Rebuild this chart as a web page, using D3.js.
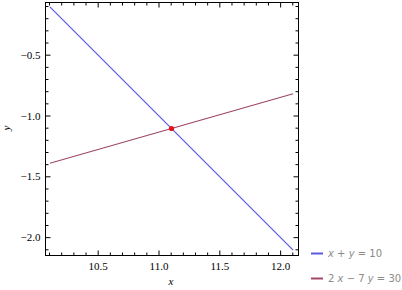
<!DOCTYPE html>
<html>
<head>
<meta charset="utf-8">
<script src="https://cdn.jsdelivr.net/npm/d3@7"></script>
<style>
body { margin: 0; background: #fff; }
.tick text { font-family: "Liberation Serif", serif; font-size: 11px; fill: #000; }
.tick line { stroke: #000; }
.legend text { font-family: "DejaVu Sans", sans-serif; font-size: 10px; fill: #8a8a8a; }
</style>
</head>
<body>
<svg id="chart"></svg>
<script>
// line endpoints
var seriesNames = ["x + y = 10", "2 x \u2212 7 y = 30"];
var lineX = [10.111, 12.111];
var blueY = [-0.111, -2.111];
var purpleY = [-1.397, -0.825];
var pointXY = [11.111, -1.111];

var xMajor = [10.5, 11, 11.5, 12];
var yMajor = [-0.5, -1, -1.5, -2];
var xMinor = [10.1, 10.2, 10.3, 10.4, 10.6, 10.7, 10.8, 10.9, 11.1, 11.2, 11.3, 11.4, 11.6, 11.7, 11.8, 11.9, 12.1];
var yMinor = [-0.1, -0.2, -0.3, -0.4, -0.6, -0.7, -0.8, -0.9, -1.1, -1.2, -1.3, -1.4, -1.6, -1.7, -1.8, -1.9, -2.1];

var colors = ["#5a5ae0", "#a04868"];

var screen = {width: 402, height: 290};
var frame = {left: 45, right: 298, top: 2, bottom: 255};

var svg = d3.select("#chart")
    .attr("width", screen.width)
    .attr("height", screen.height);

var xScale = d3.scaleLinear()
    .domain([10.071, 12.151])
    .range([frame.left, frame.right]);
var yScale = d3.scaleLinear()
    .domain([-2.151, -0.071])
    .range([frame.bottom, frame.top]);

var fmt = function(d){ return d3.format(".1f")(d).replace("-", "\u2212"); };

//frame
svg.append("rect")
    .attr("x", frame.left + 0.5)
    .attr("y", frame.top + 0.5)
    .attr("width", frame.right - frame.left)
    .attr("height", frame.bottom - frame.top)
    .attr("fill", "none")
    .attr("stroke", "#000")
    .attr("stroke-width", 1);

//axes, ticks point inward
var addAxis = function(axis, tx, ty, values, size, labels)
{
    var g = svg.append("g")
        .attr("transform", "translate(" + tx + "," + ty + ")")
        .call(axis.tickValues(values).tickSizeInner(-size).tickSizeOuter(0)
              .tickFormat(labels ? fmt : function(){ return ""; }));
    g.select(".domain").remove();
    return g;
};

addAxis(d3.axisBottom(xScale), 0.5, frame.bottom + 0.5, xMajor, 5, true)
    .selectAll("text").attr("dy", "0.71em").attr("y", 7);
addAxis(d3.axisBottom(xScale), 0.5, frame.bottom + 0.5, xMinor, 3, false);
addAxis(d3.axisTop(xScale), 0.5, frame.top + 0.5, xMajor, 5, false);
addAxis(d3.axisTop(xScale), 0.5, frame.top + 0.5, xMinor, 3, false);
addAxis(d3.axisLeft(yScale), frame.left + 0.5, 0.5, yMajor, 5, true)
    .selectAll("text").attr("x", -5);
addAxis(d3.axisLeft(yScale), frame.left + 0.5, 0.5, yMinor, 3, false);
addAxis(d3.axisRight(yScale), frame.right + 0.5, 0.5, yMajor, 5, false);
addAxis(d3.axisRight(yScale), frame.right + 0.5, 0.5, yMinor, 3, false);

//lines
var linegen = d3.line()
    .x(function(d){ return xScale(d[0]); })
    .y(function(d){ return yScale(d[1]); });

var series = [d3.zip(lineX, blueY), d3.zip(lineX, purpleY)];

svg.append("g")
    .selectAll("path")
    .data(series)
    .enter()
    .append("path")
    .attr("d", linegen)
    .attr("fill", "none")
    .attr("stroke-width", 1.2)
    .attr("stroke", function(d, i){ return colors[i]; });

//intersection
svg.append("circle")
    .attr("cx", xScale(pointXY[0]))
    .attr("cy", yScale(pointXY[1]))
    .attr("r", 2.6)
    .attr("fill", "#e8121b");

//axis labels
svg.append("text")
    .text("x")
    .attr("x", 171)
    .attr("y", 285)
    .attr("text-anchor", "middle")
    .style("font-family", "Liberation Serif, serif")
    .style("font-style", "italic")
    .style("font-size", "11px");
svg.append("text")
    .text("y")
    .attr("transform", "translate(10,128) rotate(-90)")
    .attr("text-anchor", "middle")
    .style("font-family", "Liberation Serif, serif")
    .style("font-style", "italic")
    .style("font-size", "11px");

//legend
var legend = svg.append("g")
    .classed("legend", true)
    .selectAll("g")
    .data(seriesNames)
    .enter()
    .append("g")
    .attr("transform", function(d, i){ return "translate(311," + (253 + i * 25) + ")"; });

legend.append("line")
    .attr("x1", 0).attr("x2", 12)
    .attr("y1", 0.5).attr("y2", 0.5)
    .attr("stroke-width", 2)
    .attr("stroke", function(d, i){ return colors[i]; });

legend.append("text")
    .attr("x", 17)
    .attr("y", 4)
    .each(function(d){
        var t = d3.select(this);
        d.split(/(x|y)/).forEach(function(part){
            if (part === "") return;
            t.append("tspan")
                .text(part)
                .style("font-style", (part === "x" || part === "y") ? "italic" : "normal");
        });
    });
</script>
</body>
</html>
